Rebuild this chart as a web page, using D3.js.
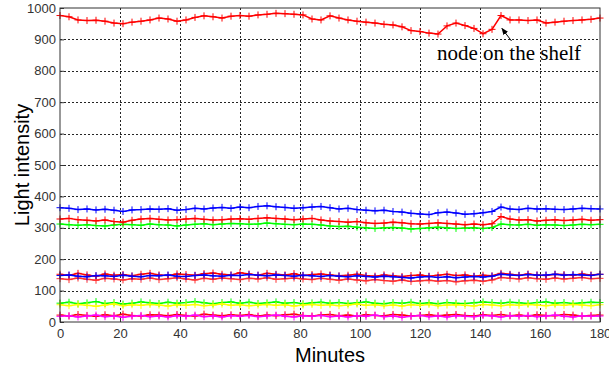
<!DOCTYPE html>
<html lang="en">
<head>
<meta charset="UTF-8">
<title>Light intensity</title>
<script src="https://cdn.jsdelivr.net/npm/d3@7/dist/d3.min.js"></script>
<style>
  body { margin: 0; background: #fff; }
</style>
</head>
<body>
<div id="chart"></div>
<script>
const width = 609, height = 372;
const margin = { top: 8, right: 9, bottom: 50, left: 60 };

// minutes 0,3,...,180
const minutes = d3.range(0, 181, 3);
const xTicks = [0, 20, 40, 60, 80, 100, 120, 140, 160, 180];
const yTicks = [0, 100, 200, 300, 400, 500, 600, 700, 800, 900, 1000];

const shelfRed = [976, 972, 962, 960, 961, 958, 952, 950, 955, 958,
  962, 968, 965, 958, 962, 970, 975, 972, 968, 974,
  976, 974, 978, 980, 983, 982, 980, 978, 965, 962,
  975, 968, 962, 958, 955, 952, 948, 946, 940, 928,
  925, 920, 917, 943, 952, 944, 935, 918, 932, 976,
  962, 962, 960, 962, 952, 955, 958, 960, 962, 964, 968];
const blue360 = [364, 362, 358, 360, 357, 359, 356, 352, 357, 358,
  360, 359, 361, 356, 358, 362, 360, 363, 365, 362,
  366, 364, 368, 370, 367, 365, 362, 364, 366, 368,
  364, 360, 362, 358, 356, 354, 356, 352, 350, 346,
  344, 342, 348, 350, 347, 343, 345, 348, 352, 366,
  360, 358, 362, 360, 361, 359, 358, 360, 362, 361, 360];
const red325 = [328, 330, 326, 324, 322, 325, 320, 318, 324, 328,
  330, 327, 325, 326, 328, 330, 327, 325, 326, 328,
  329, 327, 330, 332, 330, 328, 326, 328, 330, 325,
  322, 320, 318, 320, 316, 314, 315, 318, 316, 313,
  312, 314, 316, 314, 312, 310, 312, 310, 313, 336,
  328, 325, 326, 322, 324, 326, 323, 325, 327, 324, 326];
const green310 = [312, 310, 308, 310, 307, 306, 309, 311, 310, 308,
  312, 310, 309, 306, 309, 311, 313, 310, 312, 314,
  313, 311, 312, 315, 313, 311, 310, 312, 311, 309,
  306, 304, 305, 302, 300, 298, 300, 301, 299, 296,
  298, 300, 302, 300, 298, 299, 300, 298, 301, 312,
  310, 309, 311, 308, 310, 309, 307, 309, 311, 310, 311];
const red150 = [152, 148, 155, 150, 146, 153, 149, 151, 147, 152,
  155, 150, 148, 153, 151, 149, 154, 156, 152, 150,
  157, 153, 149, 155, 152, 150, 154, 148, 151, 153,
  150, 147, 149, 152, 148, 146, 150, 147, 145, 148,
  150, 146, 149, 152, 148, 150, 146, 149, 147, 155,
  152, 149, 153, 150, 148, 152, 151, 149, 153, 150, 152];
const blue146 = [148, 150, 146, 144, 148, 147, 145, 149, 146, 144,
  148, 147, 150, 146, 145, 148, 150, 147, 146, 149,
  148, 151, 149, 147, 150, 148, 146, 149, 147, 145,
  148, 146, 144, 147, 145, 143, 146, 144, 142, 140,
  143, 145, 142, 144, 141, 143, 145, 143, 146, 152,
  150, 148, 151, 149, 150, 152, 149, 151, 150, 148, 152];
const red137 = [138, 135, 140, 136, 133, 139, 137, 134, 138, 136,
  140, 135, 138, 141, 137, 134, 139, 136, 140, 138,
  135, 139, 137, 141, 136, 138, 140, 137, 135, 139,
  136, 133, 137, 134, 131, 135, 132, 130, 134, 129,
  131, 133, 130, 132, 128, 131, 133, 130, 134, 142,
  139, 137, 141, 138, 136, 140, 137, 139, 142, 138, 139];
const green60 = [60, 63, 58, 61, 65, 59, 62, 57, 60, 64,
  61, 59, 63, 60, 62, 65, 61, 58, 62, 64,
  60, 63, 59, 61, 64, 60, 62, 58, 61, 63,
  60, 62, 59, 61, 64, 60, 58, 62, 60, 63,
  59, 61, 58, 62, 60, 59, 61, 64, 62, 60,
  63, 61, 59, 62, 64, 60, 62, 59, 61, 63, 62];
const yellow54 = [55, 52, 56, 53, 50, 54, 57, 52, 55, 53,
  56, 54, 51, 55, 53, 56, 52, 54, 57, 53,
  55, 52, 54, 56, 53, 55, 51, 54, 56, 53,
  55, 52, 54, 57, 53, 55, 52, 54, 51, 55,
  53, 56, 52, 54, 55, 53, 51, 56, 54, 52,
  55, 53, 56, 54, 52, 55, 53, 56, 54, 52, 55];
const magenta18 = [18, 20, 16, 19, 22, 17, 19, 15, 18, 21,
  17, 19, 16, 20, 18, 22, 17, 19, 16, 20,
  18, 21, 17, 19, 22, 18, 16, 20, 18, 21,
  17, 19, 16, 20, 18, 22, 17, 19, 15, 18,
  21, 17, 19, 16, 20, 18, 17, 21, 19, 16,
  20, 18, 21, 17, 19, 22, 18, 16, 20, 18, 19];
const red22 = [22, 19, 24, 21, 18, 23, 20, 25, 21, 19,
  23, 22, 20, 24, 21, 19, 25, 22, 20, 23,
  21, 24, 19, 22, 20, 23, 25, 21, 19, 22,
  24, 20, 22, 19, 23, 21, 20, 24, 22, 19,
  21, 23, 20, 22, 24, 21, 19, 23, 21, 24,
  20, 22, 19, 23, 21, 20, 24, 22, 19, 21, 22];

const series = [
  { values: green60, color: "#00ff00" },
  { values: yellow54, color: "#ffff00" },
  { values: red22, color: "#ff0000" },
  { values: magenta18, color: "#ff00ff" },
  { values: red137, color: "#ff3030" },
  { values: red150, color: "#ff0000" },
  { values: blue146, color: "#0000ff" },
  { values: green310, color: "#00ff00" },
  { values: red325, color: "#ff0000" },
  { values: blue360, color: "#0000ff" },
  { values: shelfRed, color: "#ff0000" }
];

const svg = d3.select("#chart").append("svg")
  .attr("width", width).attr("height", height)
  .style("font-family", "'Liberation Sans', Arial, sans-serif");

const x = d3.scaleLinear().domain([0, 180]).range([margin.left, width - margin.right]);
const y = d3.scaleLinear().domain([0, 1000]).range([height - margin.bottom, margin.top]);

// grid
const grid = svg.append("g").attr("stroke", "#000").attr("stroke-width", 1)
  .attr("stroke-dasharray", "2,2").attr("opacity", 0.85);
grid.selectAll(".gx").data(xTicks.slice(1, -1)).enter().append("line")
  .attr("x1", d => Math.round(x(d)) + 0.5).attr("x2", d => Math.round(x(d)) + 0.5)
  .attr("y1", y(0)).attr("y2", y(1000));
grid.selectAll(".gy").data(yTicks.slice(1, -1)).enter().append("line")
  .attr("y1", d => Math.round(y(d)) + 0.5).attr("y2", d => Math.round(y(d)) + 0.5)
  .attr("x1", x(0)).attr("x2", x(180));

// series: line + '+' markers
const line = d3.line().x((d, i) => x(minutes[i])).y(d => y(d));
series.forEach(s => {
  const g = svg.append("g");
  g.append("path").attr("d", line(s.values)).attr("fill", "none")
    .attr("stroke", s.color).attr("stroke-width", 1.5);
  g.selectAll("path.mk").data(s.values).enter().append("path")
    .attr("class", "mk")
    .attr("d", (d, i) => {
      const cx = x(minutes[i]), cy = y(d), r = 3.5;
      return `M${cx - r},${cy}H${cx + r}M${cx},${cy - r}V${cy + r}`;
    })
    .attr("stroke", s.color).attr("stroke-width", 1);
});

// axes (ticks inward)
const xAxis = svg.append("g").attr("transform", `translate(0,${y(0)})`)
  .call(d3.axisBottom(x).tickValues(xTicks).tickFormat(d3.format("d"))
    .tickSizeInner(-4).tickSizeOuter(0).tickPadding(7));
const yAxis = svg.append("g").attr("transform", `translate(${x(0)},0)`)
  .call(d3.axisLeft(y).tickValues(yTicks).tickFormat(d3.format("d"))
    .tickSizeInner(-4).tickSizeOuter(0).tickPadding(4));
[xAxis, yAxis].forEach(a => {
  a.select(".domain").remove();
  a.selectAll("text").attr("font-size", 13).attr("fill", "#333")
    .style("font-family", "'Liberation Sans', Arial, sans-serif");
  a.selectAll("line").attr("stroke", "#333");
});

// box
svg.append("rect").attr("x", x(0)).attr("y", y(1000))
  .attr("width", x(180) - x(0)).attr("height", y(0) - y(1000))
  .attr("fill", "none").attr("stroke", "#333").attr("stroke-width", 1);

// axis labels
svg.append("text").attr("x", 330).attr("y", 362).attr("text-anchor", "middle")
  .attr("font-size", 20).attr("fill", "#000").text("Minutes");
svg.append("text").attr("transform", "translate(29,165) rotate(-90)")
  .attr("text-anchor", "middle").attr("font-size", 20).attr("fill", "#000")
  .text("Light intensity");

// annotation
svg.append("defs").append("marker").attr("id", "arr")
  .attr("viewBox", "0 0 10 10").attr("refX", 9).attr("refY", 5)
  .attr("markerWidth", 7).attr("markerHeight", 7).attr("orient", "auto")
  .append("path").attr("d", "M0,1L10,5L0,9Z").attr("fill", "#000");
svg.append("line").attr("x1", x(150.5)).attr("y1", y(895))
  .attr("x2", x(147.3)).attr("y2", y(935))
  .attr("stroke", "#000").attr("stroke-width", 1).attr("marker-end", "url(#arr)");
svg.append("text").attr("x", 437).attr("y", 60)
  .style("font-family", "'Liberation Serif', 'Times New Roman', serif")
  .attr("font-size", 21).attr("fill", "#000").text("node on the shelf");
</script>
</body>
</html>
